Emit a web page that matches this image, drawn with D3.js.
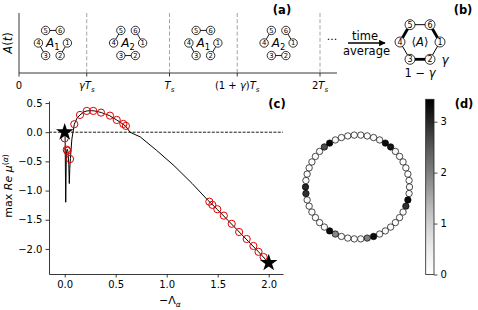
<!DOCTYPE html>
<html>
<head>
<meta charset="utf-8">
<script src="https://cdn.jsdelivr.net/npm/d3@7"></script>
<style>
  body { margin: 0; background: #fff; }
  text { font-family: "DejaVu Sans", sans-serif; fill: #000; }
</style>
</head>
<body>
<script>
// ---- data ----
const gamma = 0.45;
const timeTicks = [0, gamma, 1, 1 + gamma, 2];
// rich labels: [text, italic, subscript]
const timeTickLabels = [
  [["0", false, false]],
  [["γ", true, false], ["T", true, false], ["s", true, true]],
  [["T", true, false], ["s", true, true]],
  [["(1 + ", false, false], ["γ", true, false], [")", false, false], ["T", true, false], ["s", true, true]],
  [["2", false, false], ["T", true, false], ["s", true, true]]
];
const periodMatrix = ["1", "2", "1", "2"];
const edgesA1 = [[5, 6], [4, 3], [1, 2]];
const edgesA2 = [[5, 4], [6, 1], [3, 2]];
const nodeIds = [1, 2, 3, 4, 5, 6];

// panel (c)
const curveX = [0, 0.004, 0.010, 0.016, 0.024, 0.032, 0.040, 0.045, 0.050, 0.056, 0.07, 0.094, 0.12, 0.15, 0.19, 0.22, 0.26, 0.29, 0.33, 0.36, 0.40, 0.44, 0.48, 0.51, 0.55, 0.60, 0.64, 0.74, 0.90, 1.07, 1.25, 1.40, 1.50, 1.60, 1.70, 1.80, 1.90, 2.00];
const curveY = [0, -0.10, -1.20, -0.36, -0.29, -0.33, -0.55, -0.88, -0.62, -0.45, -0.12, 0.137, 0.24, 0.296, 0.35, 0.365, 0.37, 0.365, 0.35, 0.336, 0.31, 0.284, 0.24, 0.21, 0.165, 0.10, 0.0, -0.08, -0.31, -0.57, -0.88, -1.16, -1.33, -1.51, -1.69, -1.87, -2.05, -2.24];
const circX = [0.0, 0.02, 0.026, 0.052, 0.094, 0.15, 0.216, 0.28, 0.356, 0.444, 0.51, 0.575, 0.60, 1.418, 1.447, 1.496, 1.56, 1.637, 1.71, 1.784, 1.85, 1.90, 1.95];
const circY = [-0.105, -0.30, -0.32, -0.46, 0.137, 0.296, 0.365, 0.365, 0.336, 0.284, 0.21, 0.142, 0.108, -1.19, -1.245, -1.32, -1.43, -1.57, -1.71, -1.83, -1.95, -2.05, -2.14];
const starX = [0, 2];
const starY = [0, -2.24];
const xTicksC = [0, 0.5, 1, 1.5, 2];
const yTicksC = [-2, -1.5, -1, -0.5, 0, 0.5];

// panel (d): 50 nodes on a ring
const ringValues = [
  0.02, 0.02, 0.05, 0.2, 3.3, 3.2, 0.2, 0.05, 0.02, 0.02,
  0.02, 0.02, 0.05, 0.15, 3.3, 2.9, 0.15, 0.05, 0.02, 0.02,
  0.05, 0.15, 3.3, 2.0, 0.15, 0.05, 0.05, 0.15, 1.9, 3.3,
  0.15, 0.05, 0.02, 0.02, 0.05, 0.15, 2.9, 3.0, 0.15, 0.05,
  0.02, 0.02, 0.05, 0.2, 2.6, 3.4, 0.2, 0.05, 0.02, 0.02
];
const cbMax = 3.44;
const cbTicks = [0, 1, 2, 3];

// ---- svg ----
const width = 478, height = 310;
const svg = d3.select("body").append("svg")
  .attr("width", width)
  .attr("height", height)
  .attr("viewBox", [0, 0, width, height]);

const ink = "#222";

function rich(sel, parts, size) {
  parts.forEach(([t, it, sub], i) => {
    const prevSub = i > 0 && parts[i - 1][2];
    let dy = 0;
    if (sub && !prevSub) dy = size * 0.25;
    if (!sub && prevSub) dy = -size * 0.25;
    sel.append("tspan")
      .attr("dy", dy)
      .attr("font-style", it ? "italic" : "normal")
      .attr("font-size", sub ? size * 0.7 : size)
      .text(t);
  });
}

// ---- panel (a) ----
const xA = d3.scaleLinear().domain([0, 2]).range([19, 320]);
const topA = 13, botA = 73;
const gA = svg.append("g");

gA.selectAll(".dash").data(timeTicks.slice(1)).join("line")
  .attr("x1", d => xA(d)).attr("x2", d => xA(d))
  .attr("y1", topA).attr("y2", botA)
  .attr("stroke", "#9a9a9a").attr("stroke-width", 0.9)
  .attr("stroke-dasharray", "4,2.2");

gA.append("line").attr("x1", 19).attr("x2", 19).attr("y1", topA).attr("y2", botA)
  .attr("stroke", ink).attr("stroke-width", 0.9);
gA.append("line").attr("x1", 19).attr("x2", 337).attr("y1", botA).attr("y2", botA)
  .attr("stroke", ink).attr("stroke-width", 0.9);
gA.selectAll(".tk").data(timeTicks).join("line")
  .attr("x1", d => xA(d)).attr("x2", d => xA(d))
  .attr("y1", botA).attr("y2", botA + 3.5)
  .attr("stroke", ink).attr("stroke-width", 0.9);
timeTicks.forEach((d, i) => {
  const t = gA.append("text").attr("x", xA(d)).attr("y", 89)
    .attr("text-anchor", "middle");
  rich(t, timeTickLabels[i], 10);
});

gA.append("text")
  .attr("transform", "translate(12,43) rotate(-90)")
  .attr("text-anchor", "middle").attr("font-size", 11.5)
  .call(t => rich(t, [["A", true, false], ["(", false, false], ["t", true, false], [")", false, false]], 11.5));

function hexPos(cx, cy, r, id) {
  const a = (id - 1) * Math.PI / 3;
  return [cx + r * Math.cos(a), cy + r * Math.sin(a)];
}

function drawHex(g, cx, cy, r, nr, fs, edges, widths) {
  edges.forEach((e, i) => {
    const p = hexPos(cx, cy, r, e[0]), q = hexPos(cx, cy, r, e[1]);
    g.append("line").attr("x1", p[0]).attr("y1", p[1]).attr("x2", q[0]).attr("y2", q[1])
      .attr("stroke", "#000").attr("stroke-width", widths ? widths[i] : 0.9);
  });
  nodeIds.forEach(id => {
    const p = hexPos(cx, cy, r, id);
    g.append("circle").attr("cx", p[0]).attr("cy", p[1]).attr("r", nr)
      .attr("fill", "#fff").attr("stroke", "#000").attr("stroke-width", 0.8);
    g.append("text").attr("x", p[0]).attr("y", p[1] + fs * 0.36)
      .attr("text-anchor", "middle").attr("font-size", fs).text(id);
  });
}

periodMatrix.forEach((m, i) => {
  const cx = (xA(timeTicks[i]) + xA(timeTicks[i + 1])) / 2, cy = 43;
  drawHex(gA, cx, cy, 14.5, 4.2, 6.8, m === "1" ? edgesA1 : edgesA2);
  const t = gA.append("text").attr("x", cx).attr("y", cy + 4)
    .attr("text-anchor", "middle");
  rich(t, [["A", true, false], [m, false, true]], 12);
});

gA.append("text").attr("x", 332).attr("y", 40).attr("text-anchor", "middle")
  .attr("font-size", 11).text("...");
gA.append("text").attr("x", 365).attr("y", 40).attr("text-anchor", "middle")
  .attr("font-size", 11.5).text("time");
gA.append("text").attr("x", 366.5).attr("y", 55).attr("text-anchor", "middle")
  .attr("font-size", 11.5).text("average");
svg.append("defs").append("marker")
  .attr("id", "arr").attr("viewBox", "0 0 10 10").attr("refX", 9).attr("refY", 5)
  .attr("markerWidth", 5).attr("markerHeight", 5).attr("orient", "auto")
  .append("path").attr("d", "M0,0L10,5L0,10z").attr("fill", "#000");
gA.append("line").attr("x1", 348).attr("x2", 385).attr("y1", 43).attr("y2", 43)
  .attr("stroke", "#000").attr("stroke-width", 1.3).attr("marker-end", "url(#arr)");

// ---- panel (b) ----
const gB = svg.append("g");
const avgEdges = edgesA1.concat(edgesA2);
const avgWeights = edgesA1.map(() => gamma).concat(edgesA2.map(() => 1 - gamma));
const wScale = d3.scaleLinear().domain([gamma, 1 - gamma]).range([1, 2.8]);
drawHex(gB, 420, 42, 20, 5, 8, avgEdges, avgWeights.map(wScale));
gB.append("text").attr("x", 420).attr("y", 46).attr("text-anchor", "middle")
  .call(t => rich(t, [["⟨", false, false], ["A", true, false], ["⟩", false, false]], 11.5));
gB.append("text").attr("x", 445).attr("y", 64).attr("text-anchor", "middle")
  .attr("font-size", 12).attr("font-style", "italic").text("γ");
gB.append("text").attr("x", 420).attr("y", 77).attr("text-anchor", "middle")
  .call(t => rich(t, [["1 − ", false, false], ["γ", true, false]], 11.5));

svg.append("text").attr("x", 282).attr("y", 14).attr("text-anchor", "middle")
  .attr("font-size", 11.5).attr("font-weight", "bold").text("(a)");
svg.append("text").attr("x", 463).attr("y", 14).attr("text-anchor", "middle")
  .attr("font-size", 11.5).attr("font-weight", "bold").text("(b)");

// ---- panel (c) ----
const xC = d3.scaleLinear().domain([-0.154, 2.14]).range([49, 283]);
const yC = d3.scaleLinear().domain([-2.43, 0.535]).range([274, 101]);
const gC = svg.append("g");

gC.append("line").attr("x1", 49).attr("x2", 283).attr("y1", yC(0)).attr("y2", yC(0))
  .attr("stroke", "#000").attr("stroke-width", 0.9).attr("stroke-dasharray", "3,1.4");

const line = d3.line().x(d => xC(d[0])).y(d => yC(d[1]));
gC.append("path").datum(d3.zip(curveX, curveY))
  .attr("d", line).attr("fill", "none").attr("stroke", "#000").attr("stroke-width", 1);

gC.selectAll(".mu").data(d3.zip(circX, circY)).join("circle")
  .attr("cx", d => xC(d[0])).attr("cy", d => yC(d[1])).attr("r", 3.6)
  .attr("fill", "none").attr("stroke", "#e00000").attr("stroke-width", 1);

const star = d3.symbol().type(d3.symbolStar).size(95);
gC.selectAll(".star").data(d3.zip(starX, starY)).join("path")
  .attr("d", star)
  .attr("transform", d => `translate(${xC(d[0])},${yC(d[1])})`)
  .attr("fill", "#000");

const axL = gC.append("g").attr("transform", "translate(49,0)")
  .call(d3.axisLeft(yC).tickValues(yTicksC).tickFormat(d3.format(".1f"))
    .tickSize(3.5).tickPadding(3).tickSizeOuter(0));
const axB = gC.append("g").attr("transform", "translate(0,274)")
  .call(d3.axisBottom(xC).tickValues(xTicksC).tickFormat(d3.format(".1f"))
    .tickSize(3.5).tickPadding(3).tickSizeOuter(0));
[axL, axB].forEach(a => {
  a.selectAll("path,line").attr("stroke", ink).attr("stroke-width", 0.9);
  a.selectAll("text").attr("font-size", 10).attr("font-family", "DejaVu Sans").attr("fill", "#000");
});

gC.append("text").attr("x", 170).attr("y", 304).attr("text-anchor", "middle")
  .call(t => rich(t, [["−Λ", false, false], ["α", true, true]], 11));
gC.append("text")
  .attr("transform", "translate(12,186) rotate(-90)")
  .attr("text-anchor", "middle")
  .call(t => {
    rich(t, [["max ", false, false], ["Re", true, false], [" μ", true, false]], 11);
    t.append("tspan").attr("dy", -4.5).attr("font-size", 7.7).text("(");
    t.append("tspan").attr("font-size", 7.7).attr("font-style", "italic").text("α");
    t.append("tspan").attr("font-size", 7.7).text(")");
  });
svg.append("text").attr("x", 277).attr("y", 108).attr("text-anchor", "middle")
  .attr("font-size", 11.5).attr("font-weight", "bold").text("(c)");

// ---- panel (d) ----
const gD = svg.append("g");
const color = d3.scaleSequential(d3.interpolateGreys).domain([0, cbMax]);
const ringR = 52, ringCx = 357.5, ringCy = 187;
const ang = d3.scaleLinear().domain([0, ringValues.length]).range([-Math.PI / 2 + Math.PI / 50, 1.5 * Math.PI + Math.PI / 50]);
gD.selectAll(".node").data(ringValues).join("circle")
  .attr("cx", (d, i) => ringCx + ringR * Math.cos(ang(i)))
  .attr("cy", (d, i) => ringCy + ringR * Math.sin(ang(i)))
  .attr("r", 3.2)
  .attr("fill", d => color(d))
  .attr("stroke", "#000").attr("stroke-width", 0.7);

const grad = svg.select("defs").append("linearGradient").attr("id", "cb")
  .attr("x1", 0).attr("x2", 0).attr("y1", 1).attr("y2", 0);
d3.range(0, 1.0001, 0.05).forEach(t => {
  grad.append("stop").attr("offset", t).attr("stop-color", color(t * cbMax));
});
const yCb = d3.scaleLinear().domain([0, cbMax]).range([274.5, 99.3]);
gD.append("rect").attr("x", 425.7).attr("y", yCb(cbMax)).attr("width", 8.3)
  .attr("height", yCb(0) - yCb(cbMax)).attr("fill", "url(#cb)")
  .attr("stroke", ink).attr("stroke-width", 0.8);
const axCb = gD.append("g").attr("transform", "translate(434,0)")
  .call(d3.axisRight(yCb).tickValues(cbTicks).tickFormat(d3.format("d"))
    .tickSize(3.5).tickPadding(3).tickSizeOuter(0));
axCb.select(".domain").remove();
axCb.selectAll("line").attr("stroke", ink).attr("stroke-width", 0.8);
axCb.selectAll("text").attr("font-size", 10).attr("font-family", "DejaVu Sans").attr("fill", "#000");

svg.append("text").attr("x", 464).attr("y", 108).attr("text-anchor", "middle")
  .attr("font-size", 11.5).attr("font-weight", "bold").text("(d)");
</script>
</body>
</html>
